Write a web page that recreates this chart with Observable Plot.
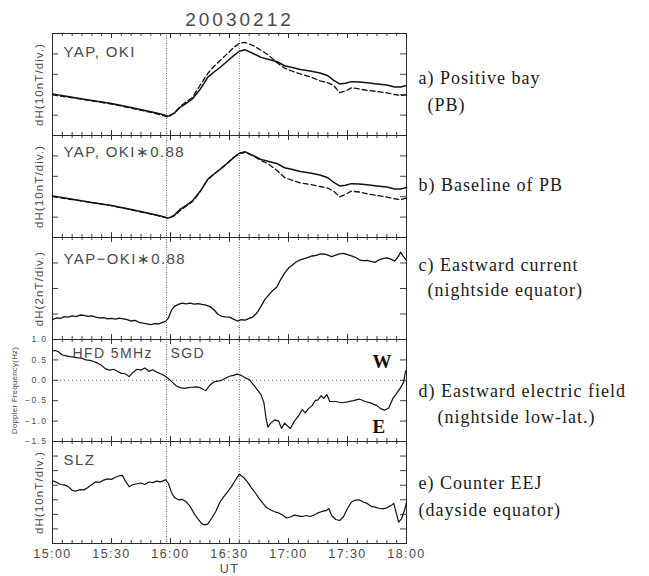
<!DOCTYPE html>
<html>
<head>
<meta charset="utf-8">
<script src="https://cdn.jsdelivr.net/npm/d3@7"></script>
<script src="https://cdn.jsdelivr.net/npm/@observablehq/plot@0.6"></script>
<style>
  body { margin: 0; background: #fff; }
  #fig { position: relative; width: 649px; height: 576px; overflow: hidden; }
  #fig text { letter-spacing: 1.4px; }
  #fig g[font-family*="Serif"] text { letter-spacing: 1px; }
  #fig g[font-size="19"] text { letter-spacing: 3px; }
  #fig g[font-size="11.5"] text { letter-spacing: 1.1px; }
  #fig g[font-size="8"] text { letter-spacing: 0.2px; }
</style>
</head>
<body>
<div id="fig"></div>
<script>
// Times are minutes after 15:00 UT on 2003-02-12.

// a) and b): YAP and OKI H-component (nT, arbitrary offset)
const abTime = [0, 10, 20, 30, 40, 50, 55, 59, 62, 65, 68, 71, 75, 79, 82, 85, 89, 92, 95, 98,
  102, 106, 110, 114, 118, 122, 126, 131, 136, 140, 143, 146, 149, 152, 156, 160, 165, 170, 174, 177, 180];
const yap = [20.4, 18.8, 17.2, 15.7, 13.7, 11.6, 10.5, 9.5, 11.0, 13.9, 15.8, 17.8, 22.5, 28.6, 31.0, 33.2, 36.5, 39.0, 41.3, 42.0,
  40.2, 38.3, 37.3, 36.3, 34.2, 33.3, 32.4, 31.6, 30.6, 29.3, 27.0, 25.3, 25.6, 26.4, 26.2, 25.8, 25.3, 24.8, 23.8, 23.8, 24.5];
const oki = [19.9, 18.5, 17.0, 15.4, 13.4, 11.3, 10.1, 9.0, 11.2, 14.2, 16.5, 18.5, 24.5, 30.5, 33.8, 36.5, 40.2, 43.0, 45.2, 45.6,
  44.1, 41.8, 39.3, 35.8, 33.0, 31.5, 30.2, 28.8, 26.8, 25.8, 24.5, 21.0, 21.8, 23.4, 22.8, 22.1, 21.6, 20.9, 20.1, 19.6, 19.9];
const okiScaled = [20.0, 18.6, 17.1, 15.6, 13.6, 11.5, 10.4, 9.4, 10.6, 13.3, 15.4, 17.5, 22.3, 28.4, 31.0, 33.3, 36.5, 39.2, 41.2, 41.7,
  40.0, 37.8, 35.9, 33.0, 29.4, 28.0, 26.8, 26.0, 25.0, 24.2, 22.7, 19.9, 21.2, 22.7, 22.3, 21.4, 20.6, 19.8, 19.0, 18.5, 19.3];

// c) YAP - OKI*0.88 (nT)
const cTime = [0, 2, 4, 6, 8, 10, 12, 14, 16, 18, 20, 22, 24, 26, 28, 30, 32, 34, 36, 38, 40, 42, 44, 46, 48, 50, 52, 54, 56, 57.5,
  59, 60.5, 62, 64, 66, 68, 70, 72, 74, 76, 78, 80, 82, 84, 86, 88, 90, 92, 94, 96, 98, 100, 102, 104, 106, 108, 110,
  112, 114, 116, 118, 120, 122, 124, 126, 128, 130, 132, 134, 136, 138, 140, 142, 144, 146, 148, 150, 152, 154, 156,
  158, 160, 162, 164, 166, 168, 170, 172, 174, 176, 177, 178, 180];
const cValue = [1.55, 1.7, 1.65, 1.8, 1.75, 1.85, 1.8, 1.92, 1.9, 1.82, 1.86, 1.75, 1.7, 1.72, 1.62, 1.66, 1.6, 1.68, 1.62, 1.55,
  1.45, 1.5, 1.35, 1.28, 1.22, 1.16, 1.25, 1.22, 1.35, 1.42, 1.7, 2.3, 2.6, 2.75, 2.85, 2.8, 2.86, 2.78, 2.82, 2.75, 2.7,
  2.58, 2.35, 2.0, 1.82, 1.78, 1.76, 1.6, 1.45, 1.55, 1.52, 1.65, 1.78, 2.1, 2.6, 3.15, 3.5, 3.85, 4.1, 4.7, 5.2, 5.6,
  5.85, 6.1, 6.25, 6.35, 6.45, 6.55, 6.6, 6.7, 6.72, 6.62, 6.5, 6.62, 6.72, 6.75, 6.65, 6.55, 6.45, 6.25, 6.18, 6.2,
  6.12, 6.05, 6.25, 6.35, 6.4, 6.3, 6.15, 6.55, 6.85, 6.6, 6.2];

// d) HF Doppler, 5 MHz, SGD (Hz)
const dTime = [0, 1.5, 3, 5, 7, 9, 11, 13, 15, 17, 19, 21, 23, 25, 27, 29, 31, 33, 35, 37, 39, 41, 43, 45, 47, 49, 51, 53, 55,
  57, 59, 61, 63, 65, 67, 69, 71, 73, 75, 77, 78, 80, 82, 84, 86, 88, 90, 92, 94, 96, 98, 100, 102, 104, 106, 107.5,
  108.5, 109.5, 111, 113, 115, 116.5, 118, 119.5, 121, 123, 125, 127, 128.5, 130, 132, 133.5, 135, 136.5, 138, 139.5,
  141, 144, 147, 150, 153, 156, 159, 162, 165, 167, 169, 171, 173, 175, 177, 178.5, 179.5, 180];
const dValue = [0.72, 0.73, 0.7, 0.62, 0.6, 0.58, 0.57, 0.55, 0.54, 0.5, 0.49, 0.46, 0.42, 0.36, 0.28, 0.25, 0.27, 0.22, 0.17,
  0.16, 0.09, 0.2, 0.27, 0.25, 0.3, 0.22, 0.26, 0.2, 0.16, 0.11, 0.04, -0.05, -0.14, -0.18, -0.2, -0.18, -0.17, -0.16,
  -0.18, -0.23, -0.25, -0.12, -0.04, -0.02, 0.0, 0.05, 0.1, 0.12, 0.15, 0.12, 0.06, 0.02, -0.1, -0.22, -0.35, -0.55,
  -0.9, -1.15, -1.05, -0.97, -1.0, -1.18, -1.05, -1.12, -1.18, -1.0, -0.88, -0.72, -0.8, -0.7, -0.62, -0.5, -0.48,
  -0.38, -0.44, -0.35, -0.52, -0.52, -0.55, -0.53, -0.5, -0.46, -0.52, -0.56, -0.62, -0.7, -0.73, -0.68, -0.45, -0.32,
  -0.18, -0.05, 0.22, 0.25];

// e) SLZ H-component (nT, arbitrary offset)
const eTime = [0, 2, 4, 6, 8, 10, 12, 14, 16, 18, 20, 22, 24, 26, 28, 30, 32, 34, 35.5, 37, 39, 41, 43, 45, 47, 49, 51, 53, 55,
  57.5, 59, 60.5, 62, 64, 66, 68, 70, 72, 74, 76, 77.5, 79, 81, 83, 85, 87, 89, 91, 93, 95, 97, 99, 101, 103, 105, 107,
  109, 111, 113, 115, 117, 119, 121, 123, 125, 127, 129, 131, 133, 135, 137, 139, 140.5, 142, 144, 146, 148, 150, 152,
  154, 156, 158, 160, 162, 164, 166, 168, 170, 172, 173.5, 175, 176, 177.5, 179, 180];
const eValue = [43, 42, 40.5, 40.2, 39, 36.5, 36, 37, 36.8, 38.5, 40.5, 42.3, 42, 43.5, 44.3, 44, 45.5, 46.5, 46.8, 43, 39,
  40.5, 41, 41.5, 40.5, 42.2, 41.8, 42.8, 42.3, 43.8, 41, 35, 31.5, 30, 30.3, 28.5, 25.5, 20.5, 16.8, 13.5, 12.8, 13.5,
  17.5, 22, 28, 32, 35.5, 39, 43.5, 47.5, 45.5, 42.5, 38.5, 35, 31, 27.5, 24.5, 23, 21.8, 21, 19.5, 17.5, 18.2, 19.5,
  19, 18.5, 19.2, 18.5, 19.5, 21, 22, 22.5, 24, 19, 16.5, 15.8, 18.5, 24, 28.5, 29.8, 30, 28.5, 27.5, 25.5, 25, 24.2,
  23.8, 24.5, 26, 27.5, 20, 14.6, 17, 23, 28];

// onset and peak markers (dotted verticals)
const eventMinutes = [58, 95];
const dopplerTicks = [-1.5, -1.0, -0.5, 0.0, 0.5, 1.0];

const T0 = Date.UTC(2003, 1, 12, 15, 0);
const utc = m => new Date(T0 + m * 60000);
const pts = (times, values) => times.map((t, i) => ({t: utc(t), v: values[i]}));

const W = 649, ML = 52, PW = 354, MR = W - ML - PW, PH = 102;
const INK = "#2a2a2a", TXT = "#4a4a4a";
const SANS = "Liberation Sans, Arial, sans-serif";
const SERIF = "Liberation Serif, Times New Roman, serif";

const minor = d3.range(0, 181, 5).map(utc);
const major = d3.range(0, 181, 30).map(utc);
const events = eventMinutes.map(utc);

function frameMarks(yTicks) {
  return [
    Plot.ruleX(minor, {insetBottom: PH - 3, stroke: INK, strokeWidth: 0.9}),
    Plot.ruleX(minor, {insetTop: PH - 3, stroke: INK, strokeWidth: 0.9}),
    Plot.ruleX(major, {insetBottom: PH - 5, stroke: INK, strokeWidth: 0.9}),
    Plot.ruleX(major, {insetTop: PH - 5, stroke: INK, strokeWidth: 0.9}),
    Plot.ruleY(yTicks, {insetRight: PW - 6, stroke: INK, strokeWidth: 0.9}),
    Plot.ruleY(yTicks, {insetLeft: PW - 6, stroke: INK, strokeWidth: 0.9}),
    Plot.ruleX(events, {stroke: "#444", strokeWidth: 0.8, strokeDasharray: "1,1.5"}),
    Plot.frame({stroke: INK, strokeWidth: 1})
  ];
}

const label = (s, dx, dy, extra = {}) =>
  Plot.text([s], {text: d => d, frameAnchor: "top-left", dx, dy, textAnchor: "start", lineAnchor: "bottom",
    fontSize: 15, fill: TXT, ...extra});
const note = (s, dx, dy) =>
  Plot.text([s], {text: d => d, frameAnchor: "top-right", dx, dy, textAnchor: "start", lineAnchor: "bottom",
    fontFamily: SERIF, fontSize: 18, fill: "#1a1a1a"});
// rotated axis title, centred on the middle of the y domain
const yTitle = (s, yMid, dx, size) =>
  Plot.text([s], {text: d => d, y: () => yMid, frameAnchor: "left", dx, rotate: -90, textAnchor: "middle",
    lineAnchor: "bottom", fontSize: size, fill: TXT});
const curve = (data, extra = {}) =>
  Plot.line(data, {x: "t", y: "v", stroke: "#111", strokeWidth: 1.3, ...extra});

const fig = document.getElementById("fig");

function panel({top, marginTop = 1, marginBottom = 1, yDomain, yTicks, marks}) {
  const svg = Plot.plot({
    width: W,
    height: marginTop + PH + marginBottom,
    marginLeft: ML, marginRight: MR, marginTop, marginBottom,
    x: {type: "utc", domain: [utc(0), utc(180)], axis: null},
    y: {domain: yDomain, axis: null},
    style: {background: "transparent", fontFamily: SANS, color: TXT, overflow: "visible"},
    marks: [...frameMarks(yTicks), ...marks]
  });
  svg.style.position = "absolute";
  svg.style.left = "0px";
  svg.style.top = top + "px";
  fig.append(svg);
}

const tops = [33, 135, 237, 339, 441];

// a) Positive bay
panel({
  top: 0, marginTop: tops[0],
  yDomain: [0, 50], yTicks: [10, 20, 30, 40],
  marks: [
    curve(pts(abTime, oki), {strokeDasharray: "5,3"}),
    curve(pts(abTime, yap), {strokeWidth: 1.5}),
    label("YAP, OKI", 11, 23.5),
    yTitle("dH(10nT/div.)", 25, -10, 11.5),
    Plot.text(["20030212"], {text: d => d, frameAnchor: "top", dx: 10, dy: -8, lineAnchor: "bottom", fontSize: 19, fill: TXT}),
    note("a) Positive bay", 12, 50),
    note("(PB)", 21, 77)
  ]
});

// b) Baseline of PB
panel({
  top: tops[1] - 1,
  yDomain: [0, 50], yTicks: [10, 20, 30, 40],
  marks: [
    curve(pts(abTime, okiScaled), {strokeDasharray: "5,3"}),
    curve(pts(abTime, yap), {strokeWidth: 1.5}),
    label("YAP, OKI∗0.88", 11, 21),
    yTitle("dH(10nT/div.)", 25, -10, 11.5),
    note("b) Baseline of PB", 12, 55)
  ]
});

// c) Eastward current
panel({
  top: tops[2] - 1,
  yDomain: [0, 8], yTicks: [2, 4, 6],
  marks: [
    curve(pts(cTime, cValue), {strokeWidth: 1.3}),
    label("YAP−OKI∗0.88", 11, 26),
    yTitle("dH(2nT/div.)", 4, -10, 11.5),
    note("c) Eastward current", 12, 33),
    note("(nightside equator)", 21, 58)
  ]
});

// d) HF Doppler frequency
panel({
  top: tops[3] - 1,
  yDomain: [-1.5, 1.0], yTicks: dopplerTicks,
  marks: [
    Plot.ruleY([0], {stroke: "#444", strokeWidth: 0.8, strokeDasharray: "1,3"}),
    curve(pts(dTime, dValue), {strokeWidth: 1.2}),
    Plot.text(dopplerTicks, {y: d => d, text: d3.format(".1f"), frameAnchor: "left", dx: -5,
      textAnchor: "end", lineAnchor: "middle", fontSize: 8.5, fill: TXT}),
    yTitle("Doppler Frequency(Hz)", -0.25, -36, 8),
    label("HFD 5MHz", 20, 18, {fontSize: 14}),
    label("SGD", 118, 18, {fontSize: 14}),
    Plot.text(["W"], {text: d => d, frameAnchor: "top-right", dx: -34, dy: 28, textAnchor: "start",
      lineAnchor: "bottom", fontFamily: SERIF, fontSize: 19, fontWeight: "bold", fill: "#111"}),
    Plot.text(["E"], {text: d => d, frameAnchor: "top-right", dx: -34, dy: 93, textAnchor: "start",
      lineAnchor: "bottom", fontFamily: SERIF, fontSize: 19, fontWeight: "bold", fill: "#111"}),
    note("d) Eastward electric field", 12, 57),
    note("(nightside low-lat.)", 31, 83)
  ]
});

// e) Counter EEJ, with the shared time axis
panel({
  top: tops[4] - 1, marginBottom: 576 - (tops[4] + PH),
  yDomain: [0, 70], yTicks: [10, 20, 30, 40, 50, 60],
  marks: [
    curve(pts(eTime, eValue), {strokeWidth: 1.2}),
    label("SLZ", 11, 23),
    yTitle("dH(10nT/div.)", 35, -10, 11.5),
    Plot.text(major, {x: d => d, text: d3.utcFormat("%H:%M"), frameAnchor: "bottom", dy: 14,
      lineAnchor: "bottom", fontSize: 12.5, fill: TXT}),
    Plot.text(["UT"], {text: d => d, frameAnchor: "bottom", dy: 29, lineAnchor: "bottom", fontSize: 12.5, fill: TXT}),
    note("e) Counter EEJ", 12, 47),
    note("(dayside equator)", 12, 74)
  ]
});
</script>
</body>
</html>
